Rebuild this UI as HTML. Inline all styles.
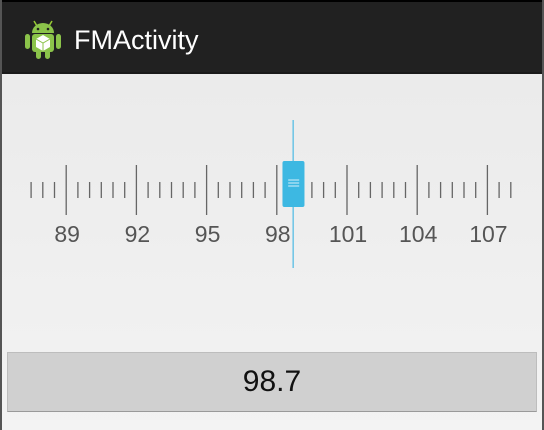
<!DOCTYPE html>
<html><head><meta charset="utf-8"><style>
html,body{margin:0;padding:0;}
body{width:544px;height:430px;position:relative;overflow:hidden;background:linear-gradient(#e9e9e9,#f3f3f3);font-family:"Liberation Sans",sans-serif;}
#frameL{position:absolute;left:0;top:0;width:2px;height:430px;background:#555;}
#frameR{position:absolute;right:0;top:0;width:2px;height:430px;background:#555;}
#top{position:absolute;left:0;top:0;width:544px;height:2px;background:#000;}
#bar{position:absolute;left:0;top:2px;width:544px;height:70px;background:#212121;border-bottom:2px solid #1a1a1a;}
#title{position:absolute;left:74px;top:23px;font-size:27px;color:#fff;}
#btn{position:absolute;left:7px;top:352px;width:528px;height:58px;background:#d0d0d0;border:1px solid #bdbdbd;border-bottom:1px solid #9a9a9a;font-size:30px;color:#111;text-align:center;line-height:58px;}
</style></head><body>
<div id="top"></div>
<div id="bar">
<svg style="position:absolute;left:24px;top:17px" width="38" height="42" viewBox="0 0 38 42">
<line x1="10" y1="2" x2="13" y2="7" stroke="#9c3" stroke-width="1.5"/><line x1="28" y1="2" x2="25" y2="7" stroke="#9c3" stroke-width="1.5"/>
<path d="M8 14 A11 10 0 0 1 30 14 Z" fill="#8bc34a"/>
<circle cx="14" cy="10" r="1.3" fill="#212121"/><circle cx="24" cy="10" r="1.3" fill="#212121"/>
<rect x="8" y="15" width="22" height="18" rx="3" fill="#8bc34a"/>
<rect x="1" y="15" width="5" height="15" rx="2.5" fill="#8bc34a"/><rect x="32" y="15" width="5" height="15" rx="2.5" fill="#8bc34a"/>
<rect x="12" y="30" width="5" height="10" rx="2.5" fill="#8bc34a"/><rect x="21" y="30" width="5" height="10" rx="2.5" fill="#8bc34a"/>
<path d="M19 16 L26 20 L26 28 L19 32 L12 28 L12 20 Z" fill="#fff"/><path d="M12 20 L19 24 L26 20 M19 24 L19 32" stroke="#8bc34a" stroke-width="1" fill="none"/>
</svg>
<div id="title">FMActivity</div>
</div>
<svg id="dial" style="position:absolute;left:0;top:0" width="544" height="430"></svg>
<div id="btn">98.7</div>
<div id="frameL"></div>
<div id="frameR"></div>
<script>
const freqMin = 87.5;
const freqMax = 108;
const majorLabels = [89, 92, 95, 98, 101, 104, 107];
const currentValue = [98.7];
const svg = document.getElementById('dial');
const NS = 'http://www.w3.org/2000/svg';
function x(f){ return 66.2 + (f - 89) * (70.2/3); }
for (let i = 0; i <= Math.round((freqMax - freqMin) / 0.5); i++) {
  const f = freqMin + i * 0.5;
  const major = majorLabels.indexOf(f) >= 0;
  const l = document.createElementNS(NS, 'line');
  l.setAttribute('x1', x(f)); l.setAttribute('x2', x(f));
  l.setAttribute('y1', major ? 165 : 182); l.setAttribute('y2', major ? 215 : 198);
  l.setAttribute('stroke', '#666'); l.setAttribute('stroke-width', '1.3');
  
  
  svg.appendChild(l);
}
majorLabels.forEach(f => {
  const t = document.createElementNS(NS, 'text');
  t.setAttribute('x', x(f) + 1); t.setAttribute('y', 242);
  t.setAttribute('text-anchor', 'middle');
  t.setAttribute('font-size', '23'); t.setAttribute('fill', '#555');
  t.setAttribute('font-family', 'Liberation Sans, sans-serif');
  t.textContent = f;
  
  
  svg.appendChild(t);
});
const cx = x(currentValue[0]);
const ln = document.createElementNS(NS, 'line');
ln.setAttribute('x1', cx); ln.setAttribute('x2', cx); ln.setAttribute('y1', 120); ln.setAttribute('y2', 268);
ln.setAttribute('stroke', '#6cc4e6'); ln.setAttribute('stroke-width', '1.5');


svg.appendChild(ln);
const k = document.createElementNS(NS, 'rect');
k.setAttribute('x', cx - 10.7); k.setAttribute('y', 161); k.setAttribute('width', 22); k.setAttribute('height', 46);
k.setAttribute('rx', 2); k.setAttribute('fill', '#3db8e2');


svg.appendChild(k);
[180, 183, 186].forEach(yy => {
  const g = document.createElementNS(NS, 'line');
  g.setAttribute('x1', cx - 5); g.setAttribute('x2', cx + 6); g.setAttribute('y1', yy); g.setAttribute('y2', yy);
  g.setAttribute('stroke', '#d8f0fa'); g.setAttribute('stroke-width', '1');
  
  
  svg.appendChild(g);
});
</script>
</body></html>
